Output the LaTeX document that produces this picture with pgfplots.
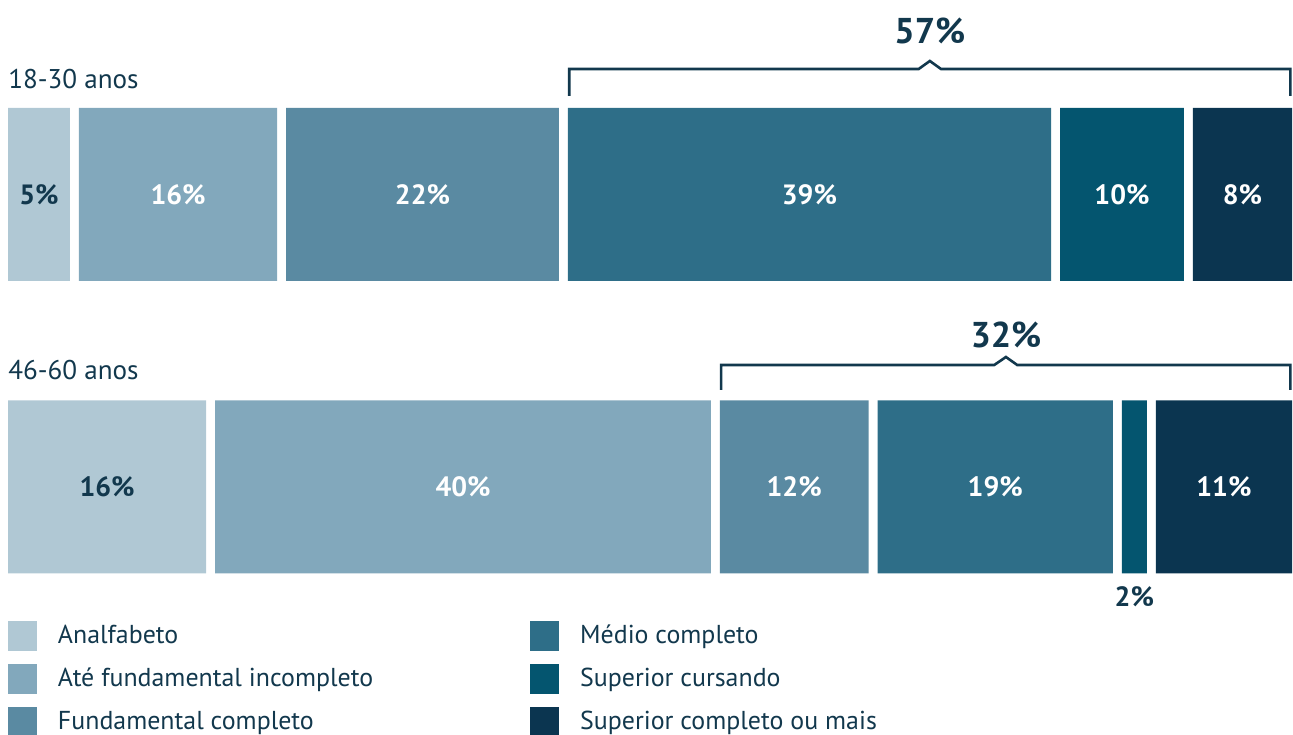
\documentclass[border=0pt]{standalone}
\usepackage{fontspec}
\setmainfont{PT Sans}
\usepackage{pgfplots}
\pgfplotsset{compat=1.18}
\definecolor{cA}{HTML}{B0C8D4}
\definecolor{cB}{HTML}{82A8BC}
\definecolor{cC}{HTML}{5A8AA2}
\definecolor{cD}{HTML}{2E6E88}
\definecolor{cE}{HTML}{04556F}
\definecolor{cF}{HTML}{0B3550}
\definecolor{tdark}{HTML}{12384D}
\begin{document}
\begin{tikzpicture}
\pgfplotsset{base/.style={scale only axis, width=646.5bp, height=367.5bp,
  xmin=-0.6457, xmax=103.71, ymin=0, ymax=735, hide axis, clip=false}}
% bars
\begin{axis}[base, xbar stacked, bar width=173,
  legend columns=3, transpose legend,
  legend image code/.code={\fill[#1,draw=none] (0bp,-7.5bp) rectangle (14.5bp,7.5bp);},
  legend style={draw=none, fill=none, at={(axis cs:0,114)}, anchor=north west,
    inner sep=0pt, outer sep=0pt, font=\fontsize{13}{15}\selectfont, text=tdark,
    row sep=6.5bp,
    /tikz/every odd column/.append style={column sep=8.5bp},
    /tikz/every even column/.append style={column sep=76.5bp}},
  legend cell align=left]
\addplot[fill=cA, draw=none] coordinates {(5,540.5) (16,248)};
\addlegendentry{Analfabeto}
\addplot[fill=none, draw=none, forget plot] coordinates {(0.7264,540.5) (0.7264,248)};
\addplot[fill=cB, draw=none] coordinates {(16,540.5) (40,248)};
\addlegendentry{Até fundamental incompleto}
\addplot[fill=none, draw=none, forget plot] coordinates {(0.7264,540.5) (0.7264,248)};
\addplot[fill=cC, draw=none] coordinates {(22,540.5) (12,248)};
\addlegendentry{Fundamental completo}
\addplot[fill=none, draw=none, forget plot] coordinates {(0.7264,540.5) (0.7264,248)};
\addplot[fill=cD, draw=none] coordinates {(39,540.5) (19,248)};
\addlegendentry{Médio completo}
\addplot[fill=none, draw=none, forget plot] coordinates {(0.7264,540.5) (0.7264,248)};
\addplot[fill=cE, draw=none] coordinates {(10,540.5) (2,248)};
\addlegendentry{Superior cursando}
\addplot[fill=none, draw=none, forget plot] coordinates {(0.7264,540.5) (0.7264,248)};
\addplot[fill=cF, draw=none] coordinates {(8,540.5) (11,248)};
\addlegendentry{Superior completo ou mais}
\end{axis}
% labels and brackets
\begin{axis}[base]
\addplot[draw=none, nodes near coords, point meta=explicit symbolic,
  every node near coord/.append style={anchor=center, text=white,
    font=\fontsize{14}{16}\selectfont\bfseries}]
  coordinates {(13.7264,540.5)[16\%] (33.4528,540.5)[22\%] (64.6792,540.5)[39\%]
    (89.9056,540.5)[10\%] (99.632,540.5)[8\%]
    (36.7264,248)[40\%] (63.4528,248)[12\%] (79.6792,248)[19\%] (98.132,248)[11\%]};
\addplot[draw=none, nodes near coords, point meta=explicit symbolic,
  every node near coord/.append style={anchor=center, text=tdark,
    font=\fontsize{14}{16}\selectfont\bfseries}]
  coordinates {(2.5,540.5)[5\%] (8,248)[16\%] (90.9056,138)[2\%]};
\addplot[draw=none, nodes near coords, point meta=explicit symbolic,
  every node near coord/.append style={anchor=center, text=tdark,
    font=\fontsize{18}{20}\selectfont\bfseries}]
  coordinates {(74.4,704)[57\%] (80.54,400)[32\%]};
\addplot[draw=none, nodes near coords, point meta=explicit symbolic,
  every node near coord/.append style={anchor=west, inner sep=0pt, text=tdark,
    font=\fontsize{13.6}{16}\selectfont}]
  coordinates {(0,656)[18-30 anos] (0,365)[46-60 anos]};
\addplot[tdark, line width=1.3bp, sharp plot] coordinates {(45.3,639) (45.3,666) (73.5,666) (74.4,674) (75.3,666) (103.5,666) (103.5,639)};
\addplot[tdark, line width=1.3bp, sharp plot] coordinates {(57.55,345) (57.55,370) (79.6,370) (80.54,378) (81.45,370) (103.5,370) (103.5,345)};
\end{axis}
\pgfresetboundingbox
\path (0,0) rectangle (646.5bp,367.5bp);
\end{tikzpicture}
\end{document}
